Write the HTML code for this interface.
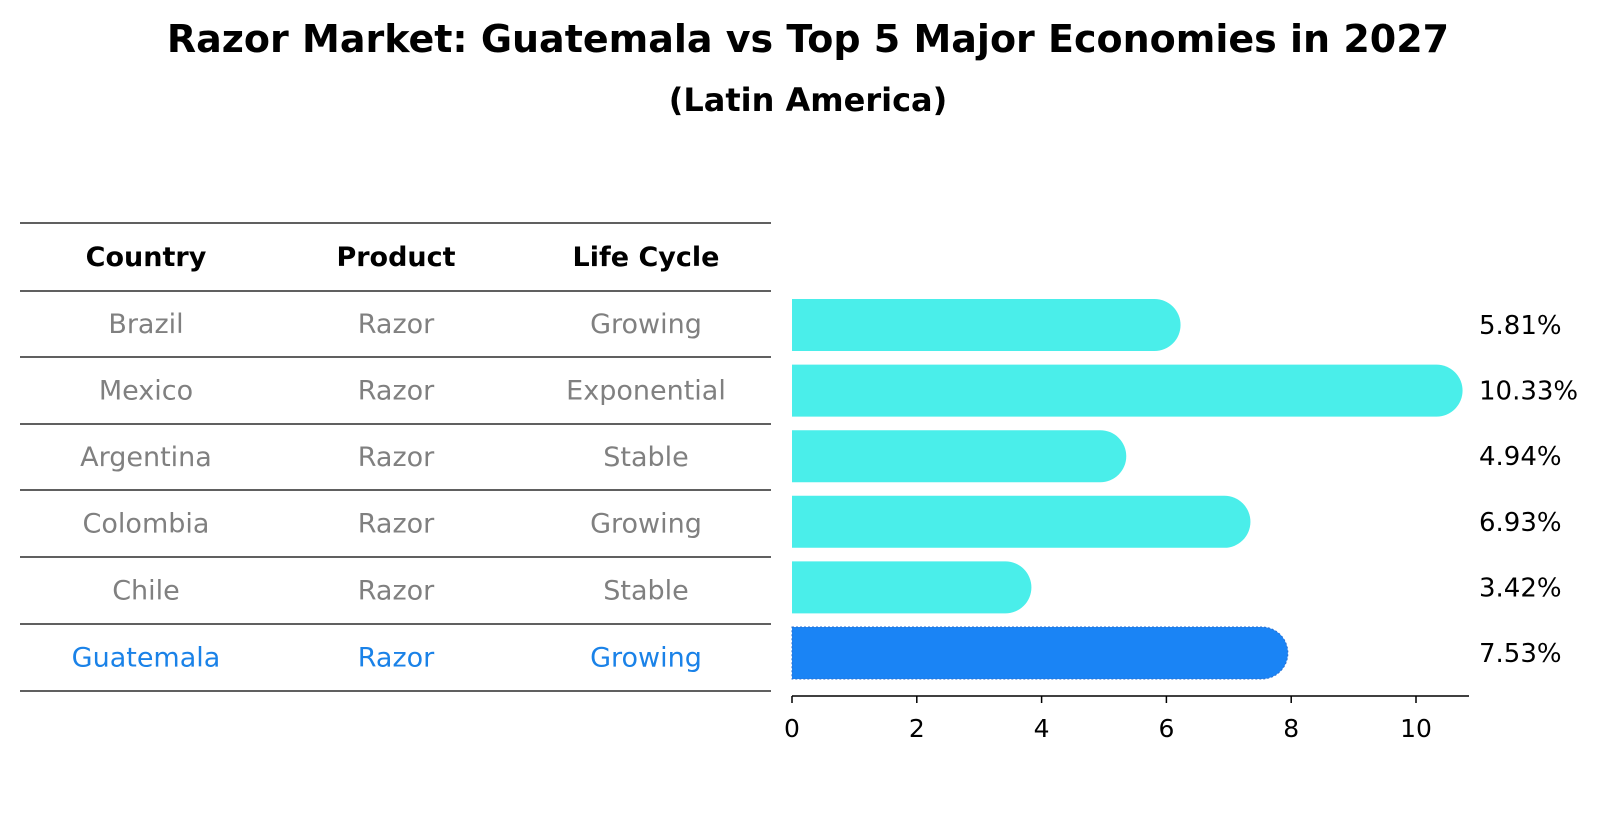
<!DOCTYPE html>
<html><head><meta charset="utf-8"><style>
body{margin:0;background:#fff;font-family:"DejaVu Sans","Liberation Sans",sans-serif;}
svg text{font-family:"DejaVu Sans","Liberation Sans",sans-serif;}
</style></head><body>
<svg id="chart" width="1604" height="823" viewBox="0 0 1604 823" xmlns="http://www.w3.org/2000/svg">
<text x="808" y="52" text-anchor="middle" font-size="38" font-weight="bold">Razor Market: Guatemala vs Top 5 Major Economies in 2027</text>
<text x="808" y="111" text-anchor="middle" font-size="32" font-weight="bold">(Latin America)</text>
<g id="table"></g>
<g id="bars"></g>
</svg>
<script>
const countries=["Brazil","Mexico","Argentina","Colombia","Chile","Guatemala"];
const products=["Razor","Razor","Razor","Razor","Razor","Razor"];
const lifeCycles=["Growing","Exponential","Stable","Growing","Stable","Growing"];
const values=[5.81,10.33,4.94,6.93,3.42,7.53];
const valueLabels=["5.81%","10.33%","4.94%","6.93%","3.42%","7.53%"];
const tickValues=[0,2,4,6,8,10];
const tickLabels=["0","2","4","6","8","10"];
const NS="http://www.w3.org/2000/svg";
function mk(tag,attrs,parent){const e=document.createElementNS(NS,tag);for(const k in attrs)e.setAttribute(k,attrs[k]);parent.appendChild(e);return e;}
const tbl=document.getElementById('table');
const bars=document.getElementById('bars');
const lineY=[223,291,357,424,490,557,624,691];
const colX=[146,396,646];
for(const y of lineY){const l=mk('line',{x1:20,x2:771,y1:y,y2:y,stroke:'#000','stroke-width':1.3},tbl);

}
const headers=["Country","Product","Life Cycle"];
headers.forEach((h,i)=>{const t=mk('text',{x:colX[i],y:(lineY[0]+lineY[1])/2+9,'text-anchor':'middle','font-size':27,'font-weight':'bold'},tbl);t.textContent=h;

});
countries.forEach((c,r)=>{const y=(lineY[r+1]+lineY[r+2])/2+9;const col=r===countries.length-1?'#1a82e8':'#808080';
[c,products[r],lifeCycles[r]].forEach((v,i)=>{const t=mk('text',{x:colX[i],y:y,'text-anchor':'middle','font-size':27,fill:col},tbl);t.textContent=v;

});});
const x0=792,pxPerUnit=62.4,axisY=696,barH=52;
const xs=v=>x0+v*pxPerUnit;
const rowCenter=i=>325+i*65.6;
const ax=mk('line',{x1:x0,x2:1469,y1:axisY,y2:axisY,stroke:'#000','stroke-width':1.5},bars);


tickValues.forEach((v,i)=>{const tk=mk('line',{x1:xs(v),x2:xs(v),y1:axisY,y2:axisY+7,stroke:'#000','stroke-width':1.5},bars);


const t=mk('text',{x:xs(v),y:axisY+41,'text-anchor':'middle','font-size':25},bars);t.textContent=tickLabels[i];

});
values.forEach((v,i)=>{const cy=rowCenter(i),r=barH/2,xe=xs(v);const hi=i===values.length-1;
const d=`M${x0},${cy-r} L${xe},${cy-r} A${r},${r} 0 0 1 ${xe},${cy+r} L${x0},${cy+r} Z`;
const p=mk('path',{d:d,fill:hi?'#1a84f5':'#4aeeea'},bars);
if(hi){p.setAttribute('stroke','#2a6fd0');p.setAttribute('stroke-dasharray','2,2');p.setAttribute('stroke-width','1');}


const t=mk('text',{x:1479,y:cy+9,'font-size':26},bars);t.textContent=valueLabels[i];

});
</script>
</body></html>
